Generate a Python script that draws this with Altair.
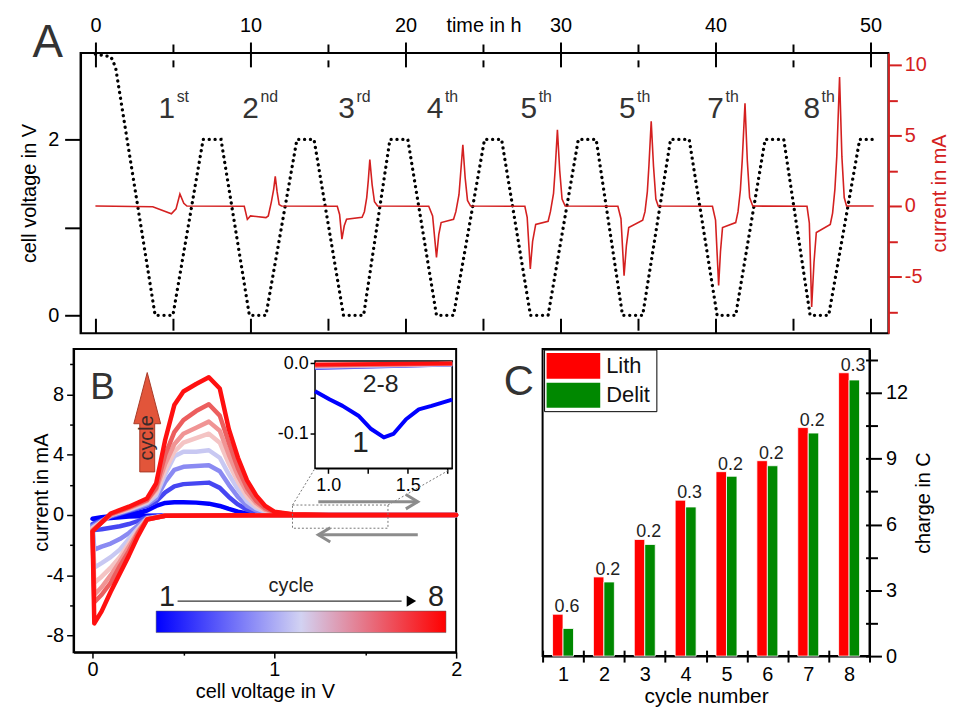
import altair as alt
import pandas as pd

FONT = "Liberation Sans"
DARK = "#333333"
RED_A = "#d42020"

# ======================= Panel A : time series =======================
A_W, A_H = 820, 282
A_T_VIEW = [-1.409, 51.15]      # view extends 7 px left of the frame
A_T_FRAME = [-0.96, 51.15]
A_V_DOMAIN = [-0.203, 2.983]
A_I_DOMAIN = [-9.01, 10.85]

V_TIME = [0.0, 1.0, 1.3, 3.85, 5.0, 6.95, 8.1, 9.93, 11.0, 13.0, 14.1, 16.0, 17.3, 19.0, 20.15,
          22.0, 23.1, 25.1, 26.2, 28.06, 29.2, 31.15, 32.3, 34.0, 35.3, 37.1, 38.3, 40.1, 41.3,
          43.2, 44.4, 46.1, 47.3, 49.3, 50.2]
V_VOLT = [2.97, 2.94, 2.82, 0.0, 0.0, 2.0, 2.0, 0.0, 0.0, 2.0, 2.0, 0.0, 0.0, 2.0, 2.0,
          0.0, 0.0, 2.0, 2.0, 0.0, 0.0, 2.0, 2.0, 0.0, 0.0, 2.0, 2.0, 0.0, 0.0,
          2.0, 2.0, 0.0, 0.0, 2.0, 2.0]

I_TIME = [0.0, 3.7, 4.9, 5.2, 5.45, 5.7, 5.9,
          9.6, 9.8, 10.0, 11.0, 11.15, 11.35, 11.5, 11.6, 11.72, 11.85, 12.0,
          15.6, 15.75, 15.9, 16.05, 16.2, 17.2, 17.35, 17.5, 17.6, 17.7, 17.85, 18.0, 18.2,
          21.5, 21.75, 22.0, 22.15, 22.3, 23.1, 23.25, 23.45, 23.55, 23.7, 23.85, 24.0, 24.2,
          27.7, 27.85, 28.05, 28.2, 28.4, 29.2, 29.35, 29.55, 29.65, 29.8, 29.95, 30.1, 30.3,
          33.7, 33.9, 34.1, 34.25, 34.4, 35.3, 35.45, 35.6, 35.7, 35.85, 36.0, 36.15, 36.3,
          39.8, 40.0, 40.2, 40.32, 40.45, 41.3, 41.45, 41.6, 41.72, 41.9, 42.05, 42.2, 42.4,
          45.9, 46.05, 46.2, 46.35, 46.5, 47.4, 47.55, 47.7, 47.82, 48.0, 48.15, 48.3, 48.45, 50.2]
I_CURR = [0.0, -0.05, -0.55, -0.2, 0.85, 0.2, 0.0,
          -0.02, -0.95, -0.7, -0.82, -0.7, 0.3, 1.2, 2.1, 1.0, 0.1, 0.0,
          -0.02, -0.6, -2.35, -1.4, -0.94, -0.8, -0.4, 0.6, 1.8, 3.3, 1.5, 0.3, 0.0,
          -0.02, -0.7, -3.64, -2.0, -1.17, -0.94, -0.4, 0.8, 2.2, 4.34, 2.0, 0.4, 0.0,
          -0.02, -0.8, -4.46, -2.5, -1.3, -1.08, -0.4, 0.9, 2.5, 5.4, 2.5, 0.5, 0.0,
          -0.02, -0.9, -4.93, -2.8, -1.53, -1.0, -0.4, 1.0, 2.8, 6.0, 2.8, 0.5, 0.0,
          -0.02, -1.0, -5.63, -3.2, -1.53, -1.17, -0.4, 1.1, 3.2, 7.28, 3.2, 0.6, 0.0,
          -0.02, -1.2, -7.16, -4.0, -1.88, -1.3, -0.5, 1.2, 3.5, 9.15, 3.5, 0.6, 0.0, 0.0]

A_TICKS_T = [0, 5, 10, 15, 20, 25, 30, 35, 40, 45, 50]
A_TICKS_V = [0, 1, 2]
A_TICKS_I = [-7.5, -5, -2.5, 0, 2.5, 5, 7.5, 10]

CYC_NUM = ["1", "2", "3", "4", "5", "5", "7", "8"]
CYC_SUP = ["st", "nd", "rd", "th", "th", "th", "th", "th"]
CYC_T = [4.6, 10.0, 16.2, 21.9, 27.95, 34.3, 40.0, 46.2]
CYC_V_NUM = [2.24] * 8
CYC_V_SUP = [2.43] * 8

assert len(V_TIME) == len(V_VOLT) and len(I_TIME) == len(I_CURR)

dfV = pd.DataFrame({"t": V_TIME, "v": V_VOLT, "k": list(range(len(V_TIME)))})
dfI = pd.DataFrame({"t": I_TIME, "c": I_CURR, "k": list(range(len(I_TIME)))})
dfCyc = pd.DataFrame({"t": CYC_T, "num": CYC_NUM, "sup": CYC_SUP, "vn": CYC_V_NUM, "vs": CYC_V_SUP})
dfAFrame = pd.DataFrame({"t0": [A_T_FRAME[0]], "t1": [A_T_FRAME[1]],
                         "v0": [A_V_DOMAIN[0]], "v1": [A_V_DOMAIN[1]]})
one = pd.DataFrame({"d": [0]})

tA = alt.Scale(domain=A_T_VIEW, nice=False, zero=False)
vA = alt.Scale(domain=A_V_DOMAIN, nice=False, zero=False)
iA = alt.Scale(domain=A_I_DOMAIN, nice=False, zero=False)
M10 = "datum.value % 10 === 0"

frameA = alt.Chart(dfAFrame).mark_rect(fillOpacity=0, stroke="black", strokeWidth=2).encode(
    x=alt.X("t0:Q", scale=tA, axis=None), x2="t1:Q",
    y=alt.Y("v0:Q", scale=vA, axis=None), y2="v1:Q")

volt = alt.Chart(dfV).mark_line(color="black", strokeWidth=3.3, strokeDash=[0.1, 5.8],
                                strokeCap="round").encode(
    x=alt.X("t:Q", scale=tA, axis=alt.Axis(
        orient="top", values=A_TICKS_T, labelExpr=f"{M10} ? '' + datum.value : ''",
        tickSize={"condition": {"test": M10, "value": 11}, "value": 9},
        labelPadding=7, title=None, domain=False, tickWidth=2)),
    y=alt.Y("v:Q", scale=vA, axis=alt.Axis(
        orient="left", offset=-7, values=A_TICKS_V, labelExpr="datum.value === 1 ? '' : '' + datum.value",
        tickSize=16, labelPadding=6, title="cell voltage in V", titlePadding=8,
        domainWidth=2, tickWidth=2)),
    order=alt.Order("k:Q"),
)

curr = alt.Chart(dfI).mark_line(color=RED_A, strokeWidth=1.6).encode(
    x=alt.X("t:Q", scale=tA, axis=alt.Axis(
        orient="bottom", offset=-15, values=A_TICKS_T, labels=False, domain=False,
        tickSize={"condition": {"test": M10, "value": 15}, "value": 12},
        title=None, tickWidth=2)),
    y=alt.Y("c:Q", scale=iA, axis=alt.Axis(
        orient="right", values=A_TICKS_I, labelExpr="datum.value % 5 === 0 ? '' + datum.value : ''",
        tickSize={"condition": {"test": "datum.value % 5 === 0", "value": 13}, "value": 9},
        labelPadding=3, title="current in mA", titleAngle=270, titleBaseline="top", titlePadding=3,
        domainColor=RED_A, tickColor=RED_A, labelColor=RED_A, titleColor=RED_A,
        domainWidth=2, tickWidth=2, zindex=1)),
    order=alt.Order("k:Q"),
)

nums = alt.Chart(dfCyc).mark_text(fontSize=30, color=DARK, baseline="alphabetic").encode(
    x=alt.X("t:Q", scale=tA, axis=alt.Axis(
        orient="top", offset=-14, values=A_TICKS_T, labels=False, domain=False,
        tickSize={"condition": {"test": M10, "value": 14}, "value": 7},
        title=None, tickWidth=2)),
    y=alt.Y("vn:Q", scale=vA, axis=None),
    text="num:N",
)
sups = alt.Chart(dfCyc).mark_text(fontSize=16, color=DARK, align="left", dx=10,
                                  baseline="alphabetic").encode(
    x=alt.X("t:Q", scale=tA, axis=None),
    y=alt.Y("vs:Q", scale=vA, axis=None),
    text="sup:N",
)
labA = alt.Chart(one).mark_text(text="A", fontSize=46, color=DARK, align="center",
                                baseline="alphabetic").encode(x=alt.value(-26), y=alt.value(4))
timeTitle = alt.Chart(one).mark_text(text="time in h", fontSize=20, color="black", align="center",
                                     baseline="alphabetic").encode(x=alt.value(413), y=alt.value(-21))

A = alt.layer(frameA, volt, curr, nums, sups, labA, timeTitle).resolve_scale(
    y="independent").resolve_axis(x="independent", y="independent").properties(
    width=A_W, height=A_H, view=alt.ViewBackground(stroke="transparent"))

# ======================= Panel B : cyclic voltammetry =======================
B_W, B_H = 385, 305
B_V_DOMAIN = [-0.104, 2.0]
B_I_DOMAIN = [-9.11, 11.02]

CV_CYCLES = [1, 2, 3, 4, 5, 6, 7, 8]
CV_COLORS = ["#0000ff", "#4646f2", "#8a8af2", "#c8c8f2", "#f4c4c4", "#f09494", "#ec5e5e", "#ff1010"]
CV_CATH_V = [2.0, 1.0, 0.4, 0.3, 0.25, 0.2, 0.15, 0.1, 0.05, 0.01]
CV_CATH_I = [
    [0.0, -0.01, -0.03, -0.05, -0.08, -0.1, -0.15, -0.2, -0.25, -0.3],
    [0.0, -0.02, -0.05, -0.15, -0.4, -0.6, -0.75, -0.85, -0.95, -1.0],
    [0.0, -0.02, -0.05, -0.2, -0.7, -1.2, -1.6, -1.9, -2.1, -2.3],
    [0.0, -0.02, -0.05, -0.25, -0.9, -1.6, -2.3, -2.8, -3.2, -3.5],
    [0.0, -0.02, -0.05, -0.25, -1.0, -1.9, -2.8, -3.5, -4.1, -4.5],
    [0.0, -0.02, -0.05, -0.28, -1.1, -2.1, -3.1, -4.0, -4.8, -5.3],
    [0.0, -0.02, -0.05, -0.3, -1.2, -2.4, -3.4, -4.5, -5.3, -5.8],
    [0.0, -0.02, -0.05, -0.3, -1.4, -2.7, -3.9, -5.1, -6.4, -7.2],
]
CV_AN_V = [0.0, 0.05, 0.1, 0.2, 0.3, 0.35, 0.4, 0.45, 0.5, 0.57, 0.64, 0.7, 0.75, 0.8, 0.85,
           0.9, 0.95, 1.0, 1.1, 1.3, 2.0]
CV_AN_I = [
    [-0.25, -0.15, -0.08, 0.0, 0.3, 0.6, 0.8, 0.85, 0.85, 0.82, 0.75, 0.6, 0.4, 0.22, 0.1, 0.04, 0.01, 0.0, 0.0, 0.0, 0.0],
    [-0.6, -0.35, -0.1, 0.25, 0.6, 0.9, 1.5, 1.9, 2.05, 2.1, 2.15, 1.8, 1.2, 0.7, 0.35, 0.15, 0.06, 0.02, 0.0, 0.0, 0.0],
    [-0.75, -0.4, -0.05, 0.3, 0.7, 1.1, 2.2, 3.0, 3.2, 3.25, 3.3, 2.9, 2.0, 1.2, 0.6, 0.3, 0.12, 0.05, 0.01, 0.0, 0.0],
    [-0.85, -0.45, 0.0, 0.35, 0.8, 1.3, 2.7, 3.9, 4.2, 4.2, 4.3, 3.8, 2.7, 1.7, 0.9, 0.45, 0.2, 0.08, 0.02, 0.0, 0.0],
    [-0.9, -0.45, 0.0, 0.4, 0.9, 1.5, 3.0, 4.2, 4.8, 5.1, 5.4, 4.8, 3.4, 2.2, 1.2, 0.6, 0.3, 0.1, 0.02, 0.0, 0.0],
    [-1.0, -0.5, 0.0, 0.45, 0.95, 1.7, 3.4, 4.7, 5.4, 5.8, 6.2, 5.6, 4.0, 2.6, 1.5, 0.8, 0.35, 0.14, 0.03, 0.0, 0.0],
    [-1.05, -0.5, 0.05, 0.5, 1.0, 1.8, 4.0, 5.5, 6.3, 6.9, 7.35, 6.6, 4.8, 3.1, 1.8, 0.95, 0.45, 0.18, 0.04, 0.0, 0.0],
    [-1.1, -0.5, 0.1, 0.55, 1.1, 2.1, 5.0, 7.3, 8.2, 8.7, 9.15, 8.4, 5.7, 3.8, 2.3, 1.3, 0.6, 0.22, 0.05, 0.0, 0.0],
]

# inset (zoom of 0.9 - 1.8 V)
IN_V_DOMAIN = [0.917, 1.78]
IN_I_DOMAIN = [-0.15, 0.003]
IN_X_RANGE = [243, 381]
IN_Y_RANGE = [120, 12]
IN_V1 = [0.917, 1.01, 1.09, 1.19, 1.27, 1.35, 1.41, 1.49, 1.57, 1.65, 1.78]
IN_I1 = [-0.040, -0.052, -0.061, -0.075, -0.094, -0.106, -0.101, -0.080, -0.066, -0.061, -0.052]
IN_V_REST = [0.917, 1.78]
IN_I_REST = [[-0.007, -0.002], [-0.006, -0.002], [-0.005, -0.0015], [-0.004, -0.001],
             [-0.004, -0.001], [-0.003, -0.0008], [-0.002, -0.0004]]

# annotations in panel-B data coordinates
ZOOM_BOX_V = [1.10, 1.625]
ZOOM_BOX_I = [-0.88, 0.66]
CONN_V0 = [1.10, 1.625]
CONN_I0 = [0.66, 0.66]
CONN_V1 = [1.224, 1.978]
CONN_I1 = [3.1, 3.1]
GRAY_ARROW_I = [0.88, -1.32]
GRAY_ARROW_V = [1.242, 1.789]
GRAY_HEAD_V = [1.789, 1.242]
GRAY_HEAD_DIR = ["r", "l"]
BIG_ARROW = {"v": [0.301], "i": [6.16], "tv": [0.301], "ti": [5.12]}
CYC_BAR_V = [0.35, 1.944]
CYC_BAR_I = [-6.38, -7.81]
CYC_LINE_V = [0.468, 1.70]
CYC_LINE_I = [-5.72]
CYC_HEAD_V = [1.78]
CYC_END_LABELS = ["1", "8"]
CYC_END_V = [0.41, 1.889]
CYC_END_I = [-5.45, -5.45]
CYC_WORD = {"v": [1.093], "i": [-4.75]}

rows = []
for k, c in enumerate(CV_CYCLES):
    seq = 0
    for v, i in zip(CV_CATH_V, CV_CATH_I[k]):
        rows.append({"cycle": c, "seq": seq, "v": v, "i": i}); seq += 1
    for v, i in zip(CV_AN_V, CV_AN_I[k]):
        rows.append({"cycle": c, "seq": seq, "v": v, "i": i}); seq += 1
dfCV = pd.DataFrame(rows)

irows = [{"cycle": 1, "seq": s, "v": v, "i": i} for s, (v, i) in enumerate(zip(IN_V1, IN_I1))]
for k, vals in enumerate(IN_I_REST):
    for s, (v, i) in enumerate(zip(IN_V_REST, vals)):
        irows.append({"cycle": k + 2, "seq": s, "v": v, "i": i})
dfIn = pd.DataFrame(irows)

cycColor = alt.Color("cycle:O", scale=alt.Scale(domain=CV_CYCLES, range=CV_COLORS), legend=None)


def bx(field, axis=None):
    return alt.X(field, scale=alt.Scale(domain=B_V_DOMAIN, nice=False, zero=False), axis=axis)


def by(field, axis=None):
    return alt.Y(field, scale=alt.Scale(domain=B_I_DOMAIN, nice=False, zero=False), axis=axis)


def ix(field, axis=None):
    return alt.X(field, scale=alt.Scale(domain=IN_V_DOMAIN, range=IN_X_RANGE, nice=False, zero=False), axis=axis)


def iy(field, axis=None):
    return alt.Y(field, scale=alt.Scale(domain=IN_I_DOMAIN, range=IN_Y_RANGE, nice=False, zero=False), axis=axis)


cv = alt.Chart(dfCV).mark_line(strokeWidth=4.5, strokeJoin="round", strokeCap="round").encode(
    x=bx("v:Q", alt.Axis(orient="bottom", values=[0, 0.5, 1, 1.5, 2],
                         labelExpr="datum.value % 1 === 0 ? '' + datum.value : ''",
                         tickSize={"condition": {"test": "datum.value % 1 === 0", "value": 6}, "value": 3},
                         labelPadding=2, title="cell voltage in V", titlePadding=2,
                         domainWidth=2, tickWidth=1.5)),
    y=by("i:Q", alt.Axis(orient="left", values=[-8, -6, -4, -2, 0, 2, 4, 6, 8, 10],
                         labelExpr="datum.value % 4 === 0 ? '' + datum.value : ''",
                         tickSize={"condition": {"test": "datum.value % 4 === 0", "value": 7}, "value": 4},
                         labelPadding=3, title="current in mA", titlePadding=-6, titleY=144,
                         domainWidth=2, tickWidth=1.5)),
    color=cycColor,
    order=alt.Order("seq:Q"),
)

dfBox = pd.DataFrame({"v0": [ZOOM_BOX_V[0]], "v1": [ZOOM_BOX_V[1]], "i0": [ZOOM_BOX_I[0]], "i1": [ZOOM_BOX_I[1]]})
zoomBox = alt.Chart(dfBox).mark_rect(fillOpacity=0, stroke="#777777", strokeDash=[2, 2], strokeWidth=1).encode(
    x=bx("v0:Q"), x2="v1:Q", y=by("i0:Q"), y2="i1:Q")
dfConn = pd.DataFrame({"v0": CONN_V0, "i0": CONN_I0, "v1": CONN_V1, "i1": CONN_I1})
conn = alt.Chart(dfConn).mark_rule(stroke="#777777", strokeDash=[2, 2], strokeWidth=1).encode(
    x=bx("v0:Q"), x2="v1:Q", y=by("i0:Q"), y2="i1:Q")

dfGA = pd.DataFrame({"i": GRAY_ARROW_I, "v0": [GRAY_ARROW_V[0]] * 2, "v1": [GRAY_ARROW_V[1]] * 2,
                     "hv": GRAY_HEAD_V, "dir": GRAY_HEAD_DIR})
gLine = alt.Chart(dfGA).mark_rule(color="#8c8c8c", strokeWidth=3).encode(
    x=bx("v0:Q"), x2="v1:Q", y=by("i:Q"))
gHead = alt.Chart(dfGA).mark_point(filled=False, color="#8c8c8c", strokeWidth=3, size=576, opacity=1).encode(
    x=bx("hv:Q"), y=by("i:Q"),
    shape=alt.Shape("dir:N", scale=alt.Scale(domain=["r", "l"],
                                             range=["M-1,-0.6L0,0L-1,0.6", "M1,-0.6L0,0L1,0.6"]), legend=None))

dfBig = pd.DataFrame(BIG_ARROW)
bigArrow = alt.Chart(dfBig).mark_point(
    shape="M0,-1L0.27,0.03L0.15,0.03L0.15,1L-0.15,1L-0.15,0.03L-0.27,0.03Z",
    size=10000, filled=True, fill="#e2553a", stroke="#a83a28", strokeWidth=1, opacity=1).encode(
    x=bx("v:Q"), y=by("i:Q"))
bigWord = alt.Chart(dfBig).mark_text(text="cycle", angle=270, fontSize=20, color="#3a2a2a",
                                     baseline="middle").encode(x=bx("tv:Q"), y=by("ti:Q"))

dfBar = pd.DataFrame({"v0": [CYC_BAR_V[0]], "v1": [CYC_BAR_V[1]], "i0": [CYC_BAR_I[0]], "i1": [CYC_BAR_I[1]]})
gradBar = alt.Chart(dfBar).mark_rect(
    color=alt.Gradient(gradient="linear", x1=0, x2=1, y1=0, y2=0,
                       stops=[alt.GradientStop(color="#0000ff", offset=0),
                              alt.GradientStop(color="#d2d2f2", offset=0.5),
                              alt.GradientStop(color="#ff0000", offset=1)]),
    stroke="#555555", strokeWidth=0.5).encode(x=bx("v0:Q"), x2="v1:Q", y=by("i0:Q"), y2="i1:Q")
dfCL = pd.DataFrame({"v0": [CYC_LINE_V[0]], "v1": [CYC_LINE_V[1]], "i": CYC_LINE_I, "hv": CYC_HEAD_V})
cLine = alt.Chart(dfCL).mark_rule(color="black", strokeWidth=1).encode(x=bx("v0:Q"), x2="v1:Q", y=by("i:Q"))
cHead = alt.Chart(dfCL).mark_point(shape="M-1,-0.6L0,0L-1,0.6Z", filled=True, color="black",
                                   size=361, opacity=1).encode(x=bx("hv:Q"), y=by("i:Q"))
dfEnd = pd.DataFrame({"lab": CYC_END_LABELS, "v": CYC_END_V, "i": CYC_END_I})
cEnds = alt.Chart(dfEnd).mark_text(fontSize=29, color="#222222", baseline="middle").encode(
    x=bx("v:Q"), y=by("i:Q"), text="lab:N")
dfWord = pd.DataFrame(CYC_WORD)
cWord = alt.Chart(dfWord).mark_text(text="cycle", fontSize=20, color="#222222", baseline="middle").encode(
    x=bx("v:Q"), y=by("i:Q"))

labB = alt.Chart(one).mark_text(text="B", fontSize=37, color=DARK, align="center",
                                baseline="alphabetic").encode(x=alt.value(29), y=alt.value(50))

# inset layers
dfInBox = pd.DataFrame({"v0": [IN_V_DOMAIN[0]], "v1": [IN_V_DOMAIN[1]], "i0": [IN_I_DOMAIN[0]], "i1": [IN_I_DOMAIN[1]]})
inBox = alt.Chart(dfInBox).mark_rect(fill="white", stroke="black", strokeWidth=1.5).encode(
    x=ix("v0:Q", alt.Axis(orient="bottom", offset=-(B_H - IN_Y_RANGE[0]), values=[1.0, 1.25, 1.5, 1.75],
                          labelExpr="datum.value === 1 ? '1.0' : (datum.value === 1.5 ? '1.5' : '')",
                          tickSize=5, labelPadding=3, labelFontSize=18, title=None, domainWidth=1.5,
                          tickWidth=1.5, minExtent=0)),
    x2="v1:Q",
    y=iy("i0:Q", alt.Axis(orient="left", offset=-IN_X_RANGE[0], values=[0.0, -0.05, -0.1],
                          labelExpr="datum.value === 0 ? '0.0' : (datum.value === -0.1 ? '-0.1' : '')",
                          tickSize=5, labelPadding=2, labelFontSize=18, title=None, domainWidth=1.5,
                          tickWidth=1.5, minExtent=0)),
    y2="i1:Q",
)
inLines = alt.Chart(dfIn).mark_line(strokeWidth=4, strokeJoin="round").encode(
    x=ix("v:Q"), y=iy("i:Q"), color=cycColor, order=alt.Order("seq:Q"))
IN_LABELS = ["2-8", "1"]
IN_LAB_V = [1.33, 1.204]
IN_LAB_I = [-0.030, -0.114]
IN_LAB_SIZE = [25, 30]
dfInLab = pd.DataFrame({"lab": IN_LABELS, "v": IN_LAB_V, "i": IN_LAB_I, "s": IN_LAB_SIZE})
inLab = alt.Chart(dfInLab).mark_text(color="#222222", baseline="middle", align="center").encode(
    x=ix("v:Q"), y=iy("i:Q"), text="lab:N",
    size=alt.Size("s:Q", scale=None, legend=None))

B = alt.layer(cv, zoomBox, conn, gLine, gHead, bigArrow, bigWord, gradBar, cLine, cHead, cEnds, cWord,
              labB, inBox, inLines, inLab).resolve_scale(
    x="independent", y="independent").properties(width=B_W, height=B_H)

# ======================= Panel C : charge per cycle =======================
C_W, C_H = 329, 309
C_CYCLES = [1, 2, 3, 4, 5, 6, 7, 8]
C_LITH = [1.91, 3.61, 5.32, 7.11, 8.41, 8.91, 10.42, 12.92]
C_DELIT = [1.26, 3.38, 5.09, 6.80, 8.20, 8.68, 10.17, 12.59]
C_DIFF = ["0.6", "0.2", "0.2", "0.3", "0.2", "0.2", "0.2", "0.3"]
C_SERIES = ["Lith", "Delit"]
C_COLORS = ["#ff0000", "#008800"]
C_Y_DOMAIN = [0, 14.0]
C_TICKS = [0, 1.5, 3, 4.5, 6, 7.5, 9, 10.5, 12, 13.5]

dfC = pd.DataFrame({
    "cycle": C_CYCLES * 2,
    "series": ["Lith"] * 8 + ["Delit"] * 8,
    "q": C_LITH + C_DELIT,
})
dfCL2 = pd.DataFrame({"cycle": C_CYCLES, "q": C_LITH, "lab": C_DIFF})

cxs = alt.Scale(paddingInner=0, paddingOuter=0)
cys = alt.Scale(domain=C_Y_DOMAIN, nice=False, zero=True)
M3 = "datum.value % 3 === 0"
bars = alt.Chart(dfC).mark_bar(stroke="white", strokeWidth=0.8).encode(
    x=alt.X("cycle:O", scale=cxs, axis=alt.Axis(
        orient="bottom", tickBand="extent", labelAngle=0, tickSize=6, labelPadding=3,
        title="cycle number", titlePadding=1, titleFontSize=21, domainWidth=2, tickWidth=2)),
    xOffset=alt.XOffset("series:N", scale=alt.Scale(domain=C_SERIES, paddingInner=0, paddingOuter=0.95)),
    y=alt.Y("q:Q", scale=cys, axis=alt.Axis(
        orient="right", values=C_TICKS, labelExpr=f"{M3} ? '' + datum.value : ''",
        tickSize={"condition": {"test": M3, "value": 12}, "value": 8},
        labelPadding=4, title="charge in C", titleAngle=270, titleBaseline="top", titlePadding=6,
        domainWidth=2, tickWidth=2)),
    color=alt.Color("series:N", scale=alt.Scale(domain=C_SERIES, range=C_COLORS), legend=None),
)
diffLab = alt.Chart(dfCL2).mark_text(fontSize=18, color="#222222", baseline="alphabetic", dx=4, dy=-2).encode(
    x=alt.X("cycle:O", scale=cxs, axis=alt.Axis(
        orient="bottom", offset=-6, tickBand="extent", tickSize=6, labels=False, domain=False,
        title=None, tickWidth=2)),
    y=alt.Y("q:Q", scale=cys, axis=alt.Axis(
        orient="right", offset=-4, values=C_TICKS, labels=False, domain=False,
        tickSize={"condition": {"test": M3, "value": 4}, "value": 3}, title=None, tickWidth=2)),
    text="lab:N")

labC = alt.Chart(one).mark_text(text="C", fontSize=42, color=DARK, align="center",
                                baseline="alphabetic").encode(x=alt.value(-24), y=alt.value(46))
legBox = alt.Chart(one).mark_rect(fill="white", stroke="black", strokeWidth=1).encode(
    x=alt.value(2), x2=alt.value(115), y=alt.value(1), y2=alt.value(63))
legRed = alt.Chart(one).mark_rect(color=C_COLORS[0]).encode(
    x=alt.value(4), x2=alt.value(58), y=alt.value(4), y2=alt.value(30))
legGreen = alt.Chart(one).mark_rect(color=C_COLORS[1]).encode(
    x=alt.value(4), x2=alt.value(58), y=alt.value(34), y2=alt.value(59))
legT1 = alt.Chart(one).mark_text(text=C_SERIES[0], fontSize=22, color="#111111", align="left",
                                 baseline="middle").encode(x=alt.value(64), y=alt.value(17))
legT2 = alt.Chart(one).mark_text(text=C_SERIES[1], fontSize=22, color="#111111", align="left",
                                 baseline="middle").encode(x=alt.value(64), y=alt.value(46))

C = alt.layer(bars, diffLab, labC, legBox, legRed, legGreen, legT1, legT2).resolve_axis(
    x="independent", y="independent").properties(width=C_W, height=C_H)

bottom = alt.hconcat(B, C, spacing=39).resolve_scale(color="independent", shape="independent")
chart = alt.vconcat(A, bottom, spacing=13).resolve_scale(
    color="independent", shape="independent").properties(
    padding={"left": 10, "top": 4, "right": 0, "bottom": 0}
).configure_view(stroke="black", strokeWidth=2).configure_axis(
    labelFont=FONT, titleFont=FONT, labelFontSize=20, titleFontSize=20, labelColor="black",
    titleColor="black", titleFontWeight="normal", grid=False, labelFlush=False, labelOverlap=False,
    domainColor="black", tickColor="black"
).configure_text(font=FONT)

chart.save("out.html", embed_options={"renderer": "svg", "actions": False})
